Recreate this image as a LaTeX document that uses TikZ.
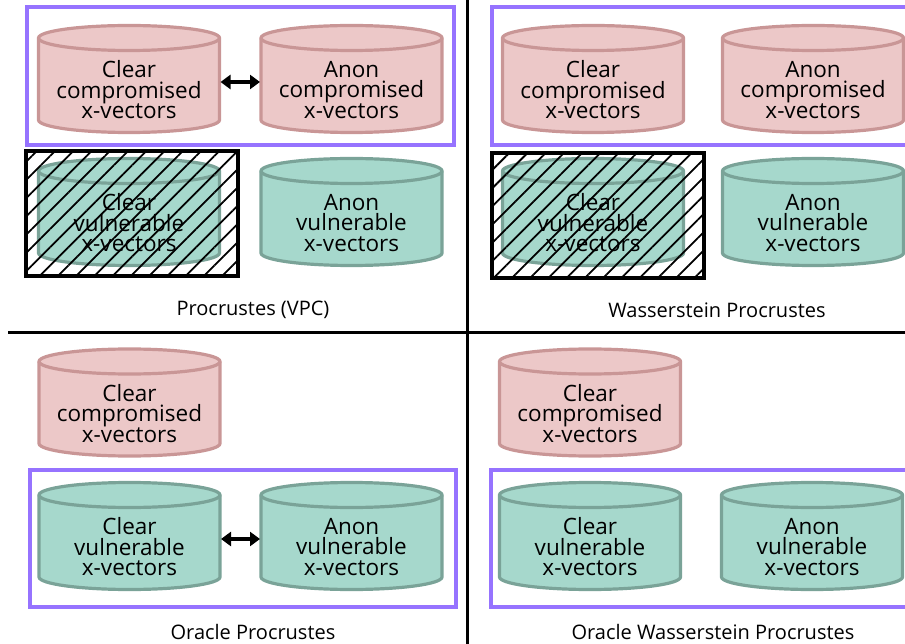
\documentclass[tikz,border=0pt]{standalone}
\usepackage{fontspec}
\setmainfont{Open Sans}
\usetikzlibrary{arrows.meta,patterns.meta}

\definecolor{pinkfill}{RGB}{236,200,200}
\definecolor{pinkline}{RGB}{201,150,150}
\definecolor{tealfill}{RGB}{166,216,204}
\definecolor{tealline}{RGB}{122,163,152}
\definecolor{oraclepurple}{RGB}{150,115,255}

% x-vector database: name, x, y, style, text
\newcommand{\xvecdb}[5]{%
    \draw[#4] (#2-90.5,#3-41) -- (#2-90.5,#3+41)
        arc[start angle=180, end angle=0, x radius=90.5, y radius=12.5]
        -- (#2+90.5,#3-41)
        arc[start angle=0, end angle=-180, x radius=90.5, y radius=12.5]
        -- cycle;
    \draw[#4, fill=none] (#2-90.5,#3-41)
        arc[start angle=180, end angle=0, x radius=90.5, y radius=12.5];
    \node[cylbox] (#1) at (#2,#3) {};
    \node[cyltext] (#1-text) at ([yshift=-11pt]#1.center) {#5};
}

\begin{document}
\begin{tikzpicture}[x=1pt, y=-1pt,
            pinkcyl/.style={
                draw=pinkline,
                fill=pinkfill,
                line width=3.2pt
            },
            tealcyl/.style={
                draw=tealline,
                fill=tealfill,
                line width=3.2pt
            },
            cylbox/.style={
                draw=none,
                minimum width=181pt,
                minimum height=107pt,
                inner sep=0pt,
                outer sep=0pt
            },
            cyltext/.style={
                font=\fontsize{22.5}{20.5}\selectfont,
                align=center,
                inner sep=0pt
            },
            oraclebox/.style={
                draw=oraclepurple,
                line width=4pt,
                inner sep=0pt,
                anchor=north west
            },
            hatchbox/.style={
                draw=black,
                line width=4pt,
                pattern={Lines[angle=45, distance=12.9pt, line width=1.8pt]},
                minimum width=212pt,
                minimum height=125pt,
                inner sep=0pt,
                anchor=north west
            },
            caption/.style={
                font=\fontsize{20}{24}\selectfont
            },
            divider/.style={
                draw=black,
                line width=3pt
            },
            matcharrow/.style={
                {Triangle[length=10pt,width=14pt]}-{Triangle[length=10pt,width=14pt]},
                line width=3.5pt,
                shorten <=1pt,
                shorten >=1pt
            }
        ]

        \useasboundingbox (0,0) rectangle (905,644);
        \clip (0,0) rectangle (905,644);

        % Quadrant dividers
        \coordinate (hleft) at (8,333);
        \coordinate (hright) at (910,333);
        \coordinate (vtop) at (467.5,-5);
        \coordinate (vbottom) at (467.5,650);
        \draw[divider] (hleft) -- (hright);
        \draw[divider] (vtop) -- (vbottom);

        % Procrustes (VPC), top-left
        \xvecdb{vpc-cc}{129}{79}{pinkcyl}{Clear\\compromised\\x-vectors}
        \xvecdb{vpc-ac}{351.5}{79}{pinkcyl}{Anon\\compromised\\x-vectors}
        \xvecdb{vpc-cv}{129}{212}{tealcyl}{Clear\\vulnerable\\x-vectors}
        \xvecdb{vpc-av}{351.5}{212}{tealcyl}{Anon\\vulnerable\\x-vectors}
        \node[oraclebox, minimum width=427pt, minimum height=138pt]
            (vpc-box) at (24.5,5.5) {};
        \node[hatchbox] (vpc-hatch) at (25,150) {};
        \draw[matcharrow] ([yshift=-3pt]vpc-cc.east) -- ([yshift=-3pt]vpc-ac.west);
        \node[caption] (vpc-label) at (253,310) {Procrustes (VPC)};

        % Wasserstein Procrustes, top-right
        \xvecdb{wp-cc}{593}{79}{pinkcyl}{Clear\\compromised\\x-vectors}
        \xvecdb{wp-ac}{813}{79}{pinkcyl}{Anon\\compromised\\x-vectors}
        \xvecdb{wp-cv}{593}{212}{tealcyl}{Clear\\vulnerable\\x-vectors}
        \xvecdb{wp-av}{813}{212}{tealcyl}{Anon\\vulnerable\\x-vectors}
        \node[oraclebox, minimum width=440pt, minimum height=138pt]
            (wp-box) at (489.5,5.5) {};
        \node[hatchbox] (wp-hatch) at (490,151) {};
        \node[caption] (wp-label) at (717,310) {Wasserstein Procrustes};

        % Oracle Procrustes, bottom-left
        \xvecdb{op-cc}{129.5}{402.5}{pinkcyl}{Clear\\compromised\\x-vectors}
        \xvecdb{op-cv}{129.5}{536}{tealcyl}{Clear\\vulnerable\\x-vectors}
        \xvecdb{op-av}{351.5}{536}{tealcyl}{Anon\\vulnerable\\x-vectors}
        \node[oraclebox, minimum width=426pt, minimum height=137pt]
            (op-box) at (27.5,467.5) {};
        \draw[matcharrow] ([yshift=-3pt]op-cv.east) -- ([yshift=-3pt]op-av.west);
        \node[caption] (op-label) at (253,632) {Oracle Procrustes};

        % Oracle Wasserstein Procrustes, bottom-right
        \xvecdb{owp-cc}{590}{402.5}{pinkcyl}{Clear\\compromised\\x-vectors}
        \xvecdb{owp-cv}{590}{536}{tealcyl}{Clear\\vulnerable\\x-vectors}
        \xvecdb{owp-av}{812}{536}{tealcyl}{Anon\\vulnerable\\x-vectors}
        \node[oraclebox, minimum width=440pt, minimum height=137pt]
            (owp-box) at (488.5,467.5) {};
        \node[caption] (owp-label) at (713,632) {Oracle Wasserstein Procrustes};
        \end{tikzpicture}
\end{document}
